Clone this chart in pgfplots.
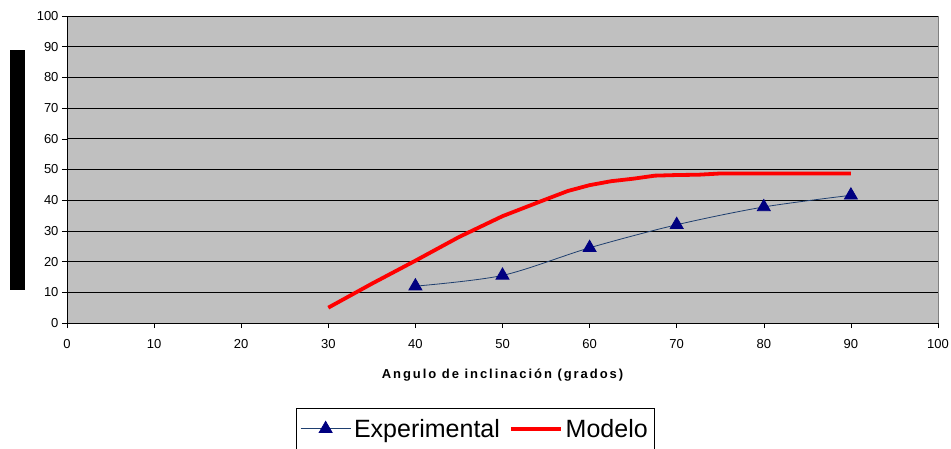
\documentclass[border=0pt]{standalone}
\usepackage{pgfplots}
\pgfplotsset{compat=1.18}
\usepackage{fontspec}
\setmainfont{Liberation Sans}
\usetikzlibrary{calc}
\definecolor{plotbg}{HTML}{C0C0C0}
\definecolor{expline}{HTML}{1F3F6F}
\definecolor{expmark}{HTML}{000080}
\begin{document}
\begin{tikzpicture}
\begin{axis}[
  name=ax,
  scale only axis,
  width=871pt, height=307pt,
  xmin=0, xmax=100, ymin=0, ymax=100,
  xtick={0,10,...,100}, ytick={0,10,...,100},
  axis background/.style={fill=plotbg, draw=gray},
  axis x line*=bottom, axis y line*=left,
  axis line style={black, -},
  ymajorgrids, grid style={black, line width=0.8pt},
  tick align=outside, major tick length=5pt,
  tick style={black, line width=0.6pt},
  /pgf/number format/assume math mode=true,
  ticklabel style={font=\fontsize{13}{15}\selectfont},
  xticklabel style={yshift=-8pt},
  xlabel={\fontsize{13}{15}\selectfont\bfseries\addfontfeatures{LetterSpace=15}Angulo de inclinación (grados)},
  xlabel style={at={(axis description cs:0.5,-0.17)}, anchor=center},
  ylabel={\rule{15pt}{240pt}},
  ylabel style={rotate=-90, at={(axis description cs:-0.0568,0.5)}, anchor=center, inner sep=0pt},
  legend style={at={(axis description cs:0.469,-0.276)}, anchor=north, legend columns=2,
    font=\fontsize{25}{29}\selectfont, draw=black, line width=0.6pt, fill=white,
    inner xsep=4pt, inner ysep=9pt,
    /tikz/every even column/.append style={column sep=6pt},
    nodes={inner xsep=3pt}},
  legend cell align=left,
  legend image code/.code={
    \draw[mark repeat=2, mark phase=2] plot coordinates {(0pt,0pt) (25pt,0pt) (50pt,0pt)};
  },
]
\addplot[expline, line width=0.8pt, smooth, mark=triangle*, mark size=7.5pt,
  mark options={fill=expmark, draw=expmark, solid}] coordinates {
  (40,12) (50,15.5) (60,24.5) (70,32) (80,37.8) (90,41.6)
};
\addlegendentry{Experimental}
\addplot[red, line width=3.8pt, line join=round] coordinates {
  (30,5) (35,12.8) (40,20.3) (45,28) (50,34.8) (55,40.3) (57.5,43) (60,44.9)
  (62.5,46.2) (65,47) (67.5,48) (70,48.2) (72.5,48.3) (75,48.7) (80,48.7) (90,48.7)
};
\addlegendentry{Modelo}
\end{axis}
\pgfresetboundingbox
\path ($(ax.south west)+(-67pt,-125pt)$) rectangle ($(ax.north east)+(13pt,16pt)$);
\end{tikzpicture}
\end{document}
